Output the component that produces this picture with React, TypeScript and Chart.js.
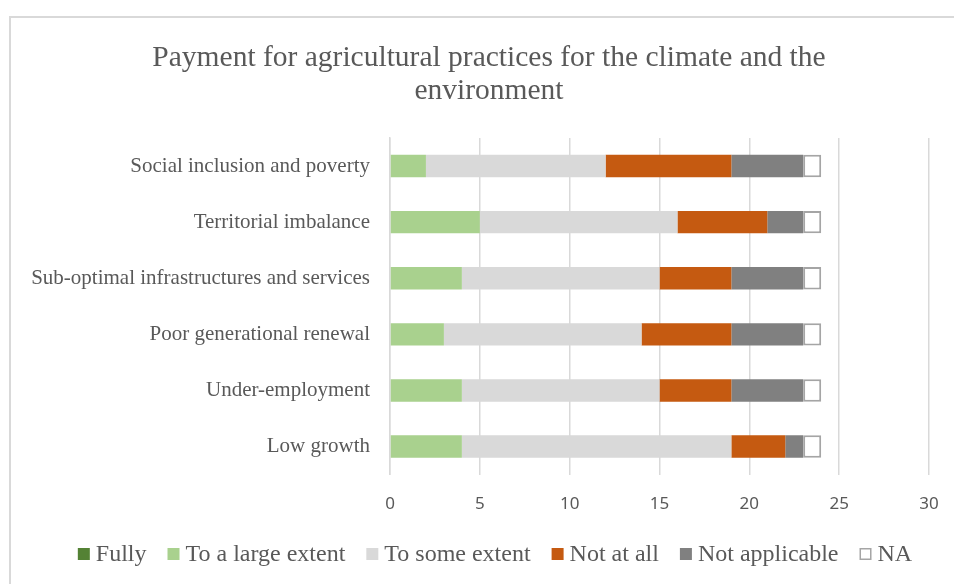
import React, { useEffect, useRef } from "react";
import { Chart, registerables } from "chart.js";

Chart.register(...registerables);

const titleLines = ["Payment for agricultural practices for the climate and the", "environment"];
const categories = [
  "Social inclusion and poverty",
  "Territorial imbalance",
  "Sub-optimal infrastructures and services",
  "Poor generational renewal",
  "Under-employment",
  "Low growth",
];
const fully = [0, 0, 0, 0, 0, 0];
const largeExtent = [2, 5, 4, 3, 4, 4];
const someExtent = [10, 11, 11, 11, 11, 15];
const notAtAll = [7, 5, 4, 5, 4, 3];
const notApplicable = [4, 2, 4, 4, 4, 1];
const na = [1, 1, 1, 1, 1, 1];
const xTicks = [0, 5, 10, 15, 20, 25, 30];

const SERIF = "'Liberation Serif', 'Times New Roman', serif";
const TEXT = "#595959";

const framePlugin = {
  id: "frame",
  beforeDraw(chart: any) {
    const { ctx, width, height } = chart;
    ctx.save();
    ctx.fillStyle = "#ffffff";
    ctx.fillRect(0, 0, width, height);
    ctx.strokeStyle = "#d9d9d9";
    ctx.lineWidth = 2;
    ctx.beginPath();
    ctx.moveTo(1, height + 5);
    ctx.lineTo(1, 1);
    ctx.lineTo(width + 5, 1);
    ctx.stroke();
    // title
    ctx.fillStyle = TEXT;
    ctx.font = `29.5px ${SERIF}`;
    ctx.textAlign = "center";
    ctx.textBaseline = "middle";
    titleLines.forEach((t, i) => ctx.fillText(t, 480, 42 + i * 33));
    ctx.restore();
  },
};

// Custom legend drawn at the bottom (Excel-like spacing)
const legendPlugin = {
  id: "customLegend",
  afterDraw(chart: any) {
    const { ctx } = chart;
    const datasets = chart.data.datasets;
    const box = 12;
    const gapText = 6;
    const gapItem = 21;
    const centerX = 486;
    const cy = 538;
    ctx.save();
    ctx.font = `24px ${SERIF}`;
    ctx.textBaseline = "middle";
    ctx.textAlign = "left";
    const widths = datasets.map((d: any) => box + gapText + ctx.measureText(d.label).width);
    const total = widths.reduce((a: number, b: number) => a + b, 0) + gapItem * (datasets.length - 1);
    let x = centerX - total / 2;
    datasets.forEach((d: any, i: number) => {
      ctx.fillStyle = d.backgroundColor;
      ctx.fillRect(x, cy - box / 2, box, box);
      if (d.borderWidth) {
        ctx.strokeStyle = d.borderColor;
        ctx.lineWidth = 1.5;
        ctx.strokeRect(x + 0.75, cy - box / 2 + 0.75, box - 1.5, box - 1.5);
      }
      ctx.fillStyle = TEXT;
      ctx.fillText(d.label, x + box + gapText, cy + 1);
      x += widths[i] + gapItem;
    });
    ctx.restore();
  },
};

export default function App() {
  const ref = useRef<HTMLCanvasElement>(null);
  useEffect(() => {
    if (!ref.current) return;
    const mk = (label: string, data: number[], bg: string, border?: string) => ({
      label,
      data,
      backgroundColor: bg,
      borderColor: border ?? bg,
      borderWidth: border ? 2 : 0,
      borderSkipped: false,
      barPercentage: 0.4,
      categoryPercentage: 1,
    });
    const chart = new Chart(ref.current, {
      type: "bar",
      data: {
        labels: categories,
        datasets: [
          mk("Fully", fully, "#548235"),
          mk("To a large extent", largeExtent, "#a9d18e"),
          mk("To some extent", someExtent, "#d9d9d9"),
          mk("Not at all", notAtAll, "#c55a11"),
          mk("Not applicable", notApplicable, "#808080"),
          mk("NA", na, "#ffffff", "#a5a5a5"),
        ] as any,
      },
      plugins: [framePlugin, legendPlugin],
      options: {
        indexAxis: "y",
        animation: false,
        responsive: false,
        maintainAspectRatio: false,
        layout: { padding: { left: 0, right: 40, top: 122, bottom: 51 } },
        plugins: {
          title: { display: false },
          legend: { display: false },
          tooltip: { enabled: false },
        },
        scales: {
          x: {
            stacked: true,
            min: 0,
            max: 30,
            afterBuildTicks(scale: any) {
              scale.ticks = xTicks.map((v) => ({ value: v }));
            },
            grid: { color: "#d9d9d9", lineWidth: 1.5, drawTicks: false },
            border: { display: false },
            ticks: {
              color: TEXT,
              font: { family: "'Noto Sans', sans-serif", size: 17 },
              padding: 19,
            },
          },
          y: {
            stacked: true,
            grid: { display: false, drawTicks: false },
            border: { display: true, color: "#d9d9d9", width: 1.5 },
            afterFit(scale: any) {
              scale.width = 381;
            },
            ticks: {
              color: TEXT,
              font: { family: SERIF, size: 21 },
              padding: 20,
            },
          },
        },
      } as any,
    });
    return () => chart.destroy();
  }, []);
  return (
    <canvas
      ref={ref}
      width={960}
      height={568}
      style={{ position: "fixed", left: 9, top: 16, width: 960, height: 568 }}
    />
  );
}
